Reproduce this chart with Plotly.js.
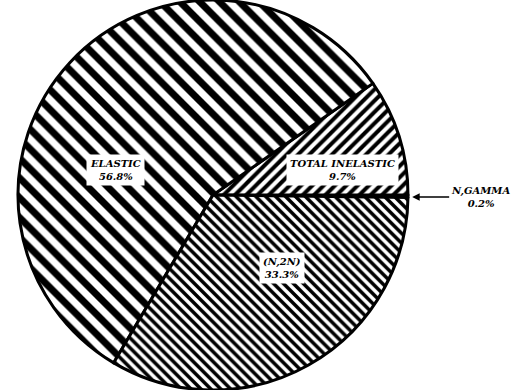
<!DOCTYPE html>
<html>
<head>
<meta charset="utf-8">
<script src="https://cdn.plot.ly/plotly-3.0.1.min.js"></script>
<style>
  html, body { margin: 0; padding: 0; background: #ffffff; }
  #chart { width: 512px; height: 390px; }
</style>
</head>
<body>
<div id="chart"></div>
<script>
// Reaction shares (percent)
const labels = ['N,GAMMA', 'TOTAL INELASTIC', 'ELASTIC', '(N,2N)'];
const shares = [0.2, 9.7, 56.8, 33.3];
const hatches = ['', '/', '\\', '\\'];
const hatchSizes = [6, 8, 14, 7];
const hatchSolid = [0.3, 0.5, 0.5, 0.5];

const labelFont = { family: 'DejaVu Serif', size: 10, color: '#000000', weight: 'bold', style: 'italic' };

function sliceNote(i, x, y) {
  return {
    xref: 'paper', yref: 'paper', x: x, y: y,
    xanchor: 'center', yanchor: 'middle',
    text: `${labels[i]}<br>${shares[i].toFixed(1)}%`,
    showarrow: false,
    bgcolor: '#ffffff',
    borderpad: 3,
    font: labelFont,
  };
}

Plotly.newPlot('chart', [
  {
    type: 'pie',
    labels: labels,
    values: shares,
    sort: false,
    direction: 'counterclockwise',
    rotation: 90,
    textinfo: 'none',
    hoverinfo: 'label+percent',
    domain: { x: [0, 0.832], y: [0, 1] },
    marker: {
      colors: ['#ffffff', '#ffffff', '#ffffff', '#ffffff'],
      line: { color: '#000000', width: 3 },
      pattern: {
        shape: hatches,
        size: hatchSizes,
        solidity: hatchSolid,
        fgcolor: '#000000',
        fgopacity: 1,
        bgcolor: '#ffffff',
        fillmode: 'overlay',
      },
    },
  },
], {
  showlegend: false,
  margin: { t: 0, r: 0, l: 0, b: 0 },
  paper_bgcolor: '#ffffff',
  annotations: [
    sliceNote(2, 0.225, 0.565),
    sliceNote(1, 0.668, 0.565),
    sliceNote(3, 0.551, 0.313),
    {
      xref: 'paper', yref: 'paper', x: 0.805, y: 0.495,
      ax: 68, ay: 0,
      text: `${labels[0]}<br>${shares[0].toFixed(1)}%`,
      showarrow: true,
      arrowhead: 2,
      arrowsize: 1,
      arrowwidth: 1.5,
      arrowcolor: '#000000',
      font: labelFont,
    },
  ],
}, { displayModeBar: false });
</script>
</body>
</html>
